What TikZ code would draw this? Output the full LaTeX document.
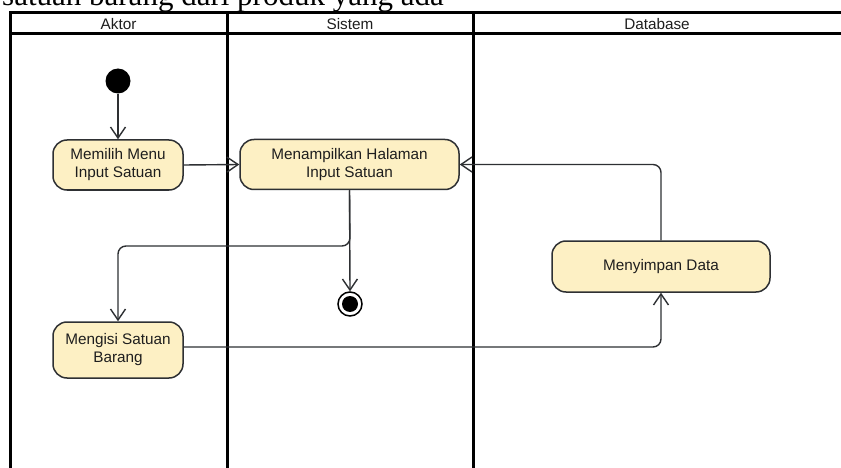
\documentclass[tikz,border=0pt]{standalone}
\usepackage{fontspec}
\setmainfont{Liberation Serif}
\newfontfamily\diagfont{Liberation Sans}
\usetikzlibrary{arrows.meta}
\definecolor{actfill}{HTML}{FDF0C4}
\definecolor{actline}{HTML}{2E3033}
\definecolor{txt}{HTML}{1E1E1E}
\tikzset{
  lane/.style={line width=3pt, black},
  act/.style={draw=actline, line width=1.5pt, fill=actfill, rounded corners=14pt,
    align=center, font=\diagfont\fontsize{15.3}{18}\selectfont, text=txt, inner sep=2pt},
  flow/.style={draw=actline, line width=1.4pt, rounded corners=8pt,
    -{Straight Barb[length=11pt,width=15pt]}},
  lanehead/.style={font=\diagfont\fontsize{15.3}{17}\selectfont, text=txt},
}
\begin{document}
\begin{tikzpicture}[x=1pt,y=-1pt]
\useasboundingbox (0,0) rectangle (841,468);
\fill[white] (0,0) rectangle (841,468);

% caption line running above the table
\node[anchor=base west, inner sep=0pt, font=\fontsize{31}{34}\selectfont] (caption) at (2,6) {satuan barang dari produk yang ada};

% swimlane frame
\draw[lane] (10,468) -- (10,13) -- (841,13);
\draw[lane] (10,34) -- (841,34);
\draw[lane] (227,13) -- (227,468);
\draw[lane] (473,13) -- (473,468);
\node[lanehead] (h1) at (118.5,24) {Aktor};
\node[lanehead] (h2) at (350,24) {Sistem};
\node[lanehead] (h3) at (657,24) {Database};

% initial and final nodes
\node[circle, fill=black, minimum size=25pt, inner sep=0pt] (start) at (118,81) {};
\node[circle, draw=black, line width=1.5pt, fill=white, minimum size=24pt, inner sep=0pt] (final) at (350,304) {};
\node[circle, fill=black, minimum size=16pt, inner sep=0pt] (finaldot) at (final) {};

% activities
\node[act, minimum width=130pt, minimum height=50pt] (memilih) at (118,165) {Memilih Menu\\Input Satuan};
\node[act, minimum width=219pt, minimum height=50pt] (tampil) at (349.5,164.5) {Menampilkan Halaman\\Input Satuan};
\node[act, minimum width=218pt, minimum height=51pt] (simpan) at (661,266.5) {Menyimpan Data};
\node[act, minimum width=130pt, minimum height=56pt] (isi) at (118,350) {Mengisi Satuan\\Barang};

% control flows
\draw[flow] (start) -- (memilih.north);
\draw[flow] (memilih.east) -- (tampil.west);
\draw[flow] (tampil.south) -- (350,246) -- (118,246) -- (isi.north);
\draw[flow] (tampil.south) -- (final.north);
\draw[flow] (isi.east |- 0,347) -- (661,347) -- (simpan.south);
\draw[flow] (simpan.north) -- (661,164.5) -- (tampil.east);
\end{tikzpicture}
\end{document}
